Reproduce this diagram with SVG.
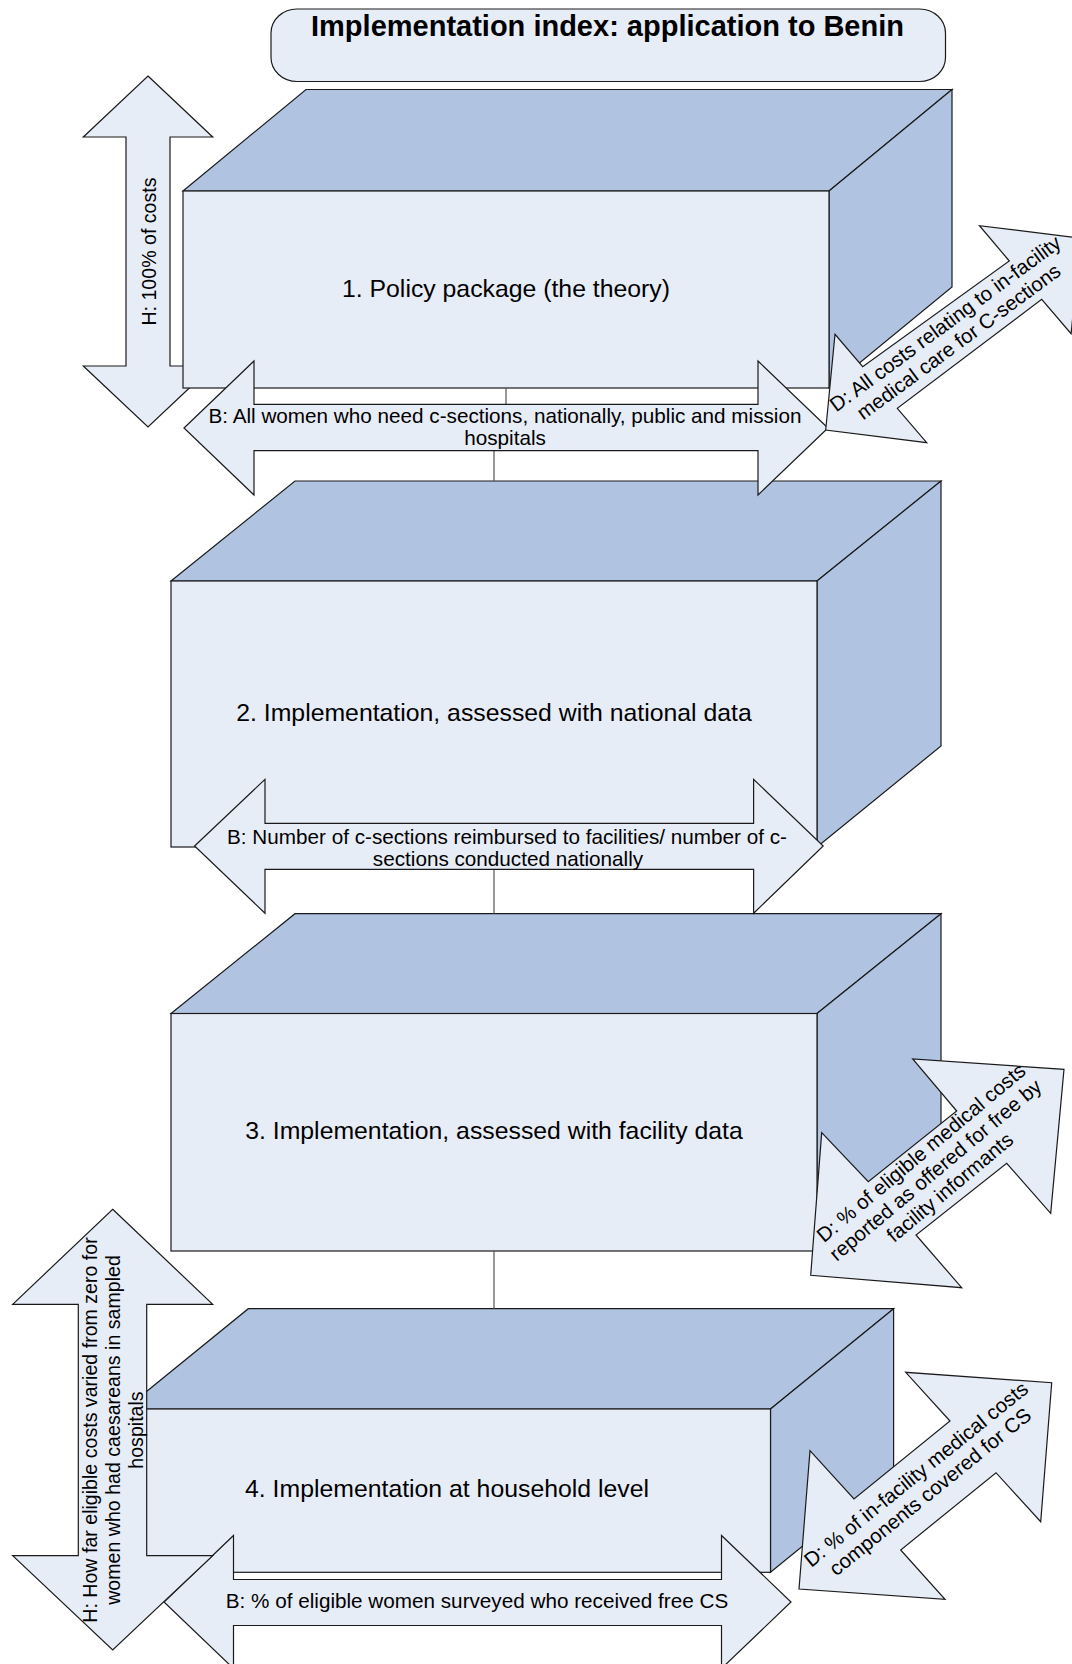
<svg xmlns="http://www.w3.org/2000/svg" width="1072" height="1664" viewBox="0 0 1072 1664">
<defs>
<style>
.front{fill:#E7EDF7;stroke:#1a1a1a;stroke-width:1.2}
.side{fill:#B0C4E2;stroke:#1a1a1a;stroke-width:1.2}
.arrow{fill:#E7EDF7;stroke:#1a1a1a;stroke-width:1.2}
.conn{fill:none;stroke:#555;stroke-width:1.2}
text{font-family:"Liberation Sans",Arial,sans-serif;fill:#000}
.title{font-size:29px;font-weight:bold}
.box{font-size:24.8px}
.lbl{font-size:20.7px}
.hl{font-size:19.6px}
.dl{font-size:20.4px}
</style>
</defs>
<rect width="1072" height="1664" fill="#fff"/>

<g id="arrow-H1">
<polygon class="arrow" points="148,76 212.7,137 170,137 170,366 212.7,366 148,427 83.3,366 126,366 126,137 83.3,137"/>
<g transform="translate(148,251.5) rotate(-90)"><text class="hl" x="0" y="7.5" text-anchor="middle">H: 100% of costs</text></g>
</g>

<g id="box1">
<polygon class="side" points="183,191 306,89.5 952,89.5 829,191"/>
<polygon class="side" points="829,191 952,89.5 952,287 829,388"/>
<rect class="front" x="183" y="191" width="646" height="197"/>
<text class="box" x="506" y="297" text-anchor="middle">1. Policy package (the theory)</text>
</g>

<g id="box2">
<polygon class="side" points="171,581 295,481 941,481 817,581"/>
<polygon class="side" points="817,581 941,481 941,746 817,847"/>
<rect class="front" x="171" y="581" width="646" height="266"/>
<text class="box" x="494" y="720.5" text-anchor="middle">2. Implementation, assessed with national data</text>
</g>

<g id="box3">
<polygon class="side" points="171,1013.5 295,913.7 941,913.7 817,1013.5"/>
<polygon class="side" points="817,1013.5 941,913.7 941,1151 817,1251"/>
<rect class="front" x="171" y="1013.5" width="646" height="237.5"/>
<text class="box" x="494" y="1139" text-anchor="middle">3. Implementation, assessed with facility data</text>
</g>

<g id="box4">
<polygon class="side" points="125,1409 248.3,1308.7 893.6,1308.7 770.5,1409"/>
<polygon class="side" points="770.5,1409 893.6,1308.7 893.6,1472 770.5,1572.3"/>
<rect class="front" x="125" y="1409" width="645.5" height="163.3"/>
<text class="box" x="447" y="1497" text-anchor="middle">4. Implementation at household level</text>
</g>

<g id="connectors">
<polyline class="conn" points="506,388 506,428 494,428 494,481"/>
<line class="conn" x1="494" y1="847" x2="494" y2="913.7"/>
<line class="conn" x1="494" y1="1251" x2="494" y2="1308.7"/>
</g>

<g id="arrow-B1">
<polygon class="arrow" points="184,428 254,361 254,404.3 758,404.3 758,361 828,428 758,495 758,450.7 254,450.7 254,495"/>
<text class="lbl" x="505" y="423" text-anchor="middle">B: All women who need c-sections, nationally, public and mission</text>
<text class="lbl" x="505" y="445.3" text-anchor="middle">hospitals</text>
</g>

<g id="arrow-B2">
<polygon class="arrow" points="194.6,846 265,779.3 265,823.3 753.6,823.3 753.6,779.3 823.2,846 753.6,913.3 753.6,869.3 265,869.3 265,913.3"/>
<text class="lbl" x="507" y="843.5" text-anchor="middle">B: Number of c-sections reimbursed to facilities/ number of c-</text>
<text class="lbl" x="508" y="865.5" text-anchor="middle">sections conducted nationally</text>
</g>

<g id="arrow-B3">
<polygon class="arrow" points="164,1602 233.5,1535.5 233.5,1579.5 721.5,1579.5 721.5,1535.5 791,1602 721.5,1668.5 721.5,1625.5 233.5,1625.5 233.5,1668.5"/>
<text class="lbl" x="477" y="1608" text-anchor="middle">B: % of eligible women surveyed who received free CS</text>
</g>

<g id="arrow-H2">
<polygon class="arrow" points="112.7,1209.3 212.7,1304.3 146.7,1304.3 146.7,1555.7 212.7,1555.7 112.7,1650 12.7,1555.7 78.3,1555.7 78.3,1304.3 12.7,1304.3"/>
<g transform="translate(112.7,1430) rotate(-90)">
<text class="hl" x="0" y="-16" text-anchor="middle">H: How far eligible costs varied from zero for</text>
<text class="hl" x="0" y="7" text-anchor="middle">women who had caesareans in sampled</text>
<text class="hl" x="0" y="30" text-anchor="middle">hospitals</text>
</g>
</g>

<g id="arrow-D1">
<polygon class="arrow" points="825.7,430 835,334.3 862.7,366.7 1009.3,261 979.5,225.7 1080.5,238.2 1071.1,333.7 1041.7,299.3 897.3,408.3 926.7,442.7"/>
<g transform="translate(953,334) rotate(-36.4)">
<text class="dl" x="0" y="-6" text-anchor="middle">D: All costs relating to in-facility</text>
<text class="dl" x="0" y="16.5" text-anchor="middle">medical care for C-sections</text>
</g>
</g>

<g id="arrow-D2">
<polygon class="arrow" points="810.7,1275.3 821.7,1132.7 868.3,1181.7 956.7,1111 912.7,1059 1064,1069.3 1050.7,1213.3 1006.7,1163.3 916,1235 961.7,1287.7"/>
<g transform="translate(937.4,1172.3) rotate(-40)">
<text class="dl" x="0" y="-18.5" text-anchor="middle">D: % of eligible medical costs</text>
<text class="dl" x="0" y="4" text-anchor="middle">reported as offered for free by</text>
<text class="dl" x="0" y="26.5" text-anchor="middle">facility informants</text>
</g>
</g>

<g id="arrow-D3">
<polygon class="arrow" points="799,1589 810,1450.7 854,1499 950,1421 905.7,1372.3 1051.7,1382.7 1040.7,1521.7 996,1472.7 900.7,1550 945,1599.3"/>
<g transform="translate(925.4,1485.9) rotate(-39)">
<text class="dl" x="0" y="-8" text-anchor="middle">D: % of in-facility medical costs</text>
<text class="dl" x="0" y="14.5" text-anchor="middle">components covered for CS</text>
</g>
</g>

<g id="title">
<rect class="front" x="271" y="9" width="674.5" height="72.5" rx="26" ry="24"/>
<text class="title" x="607.5" y="36" text-anchor="middle">Implementation index: application to Benin</text>
</g>
</svg>
